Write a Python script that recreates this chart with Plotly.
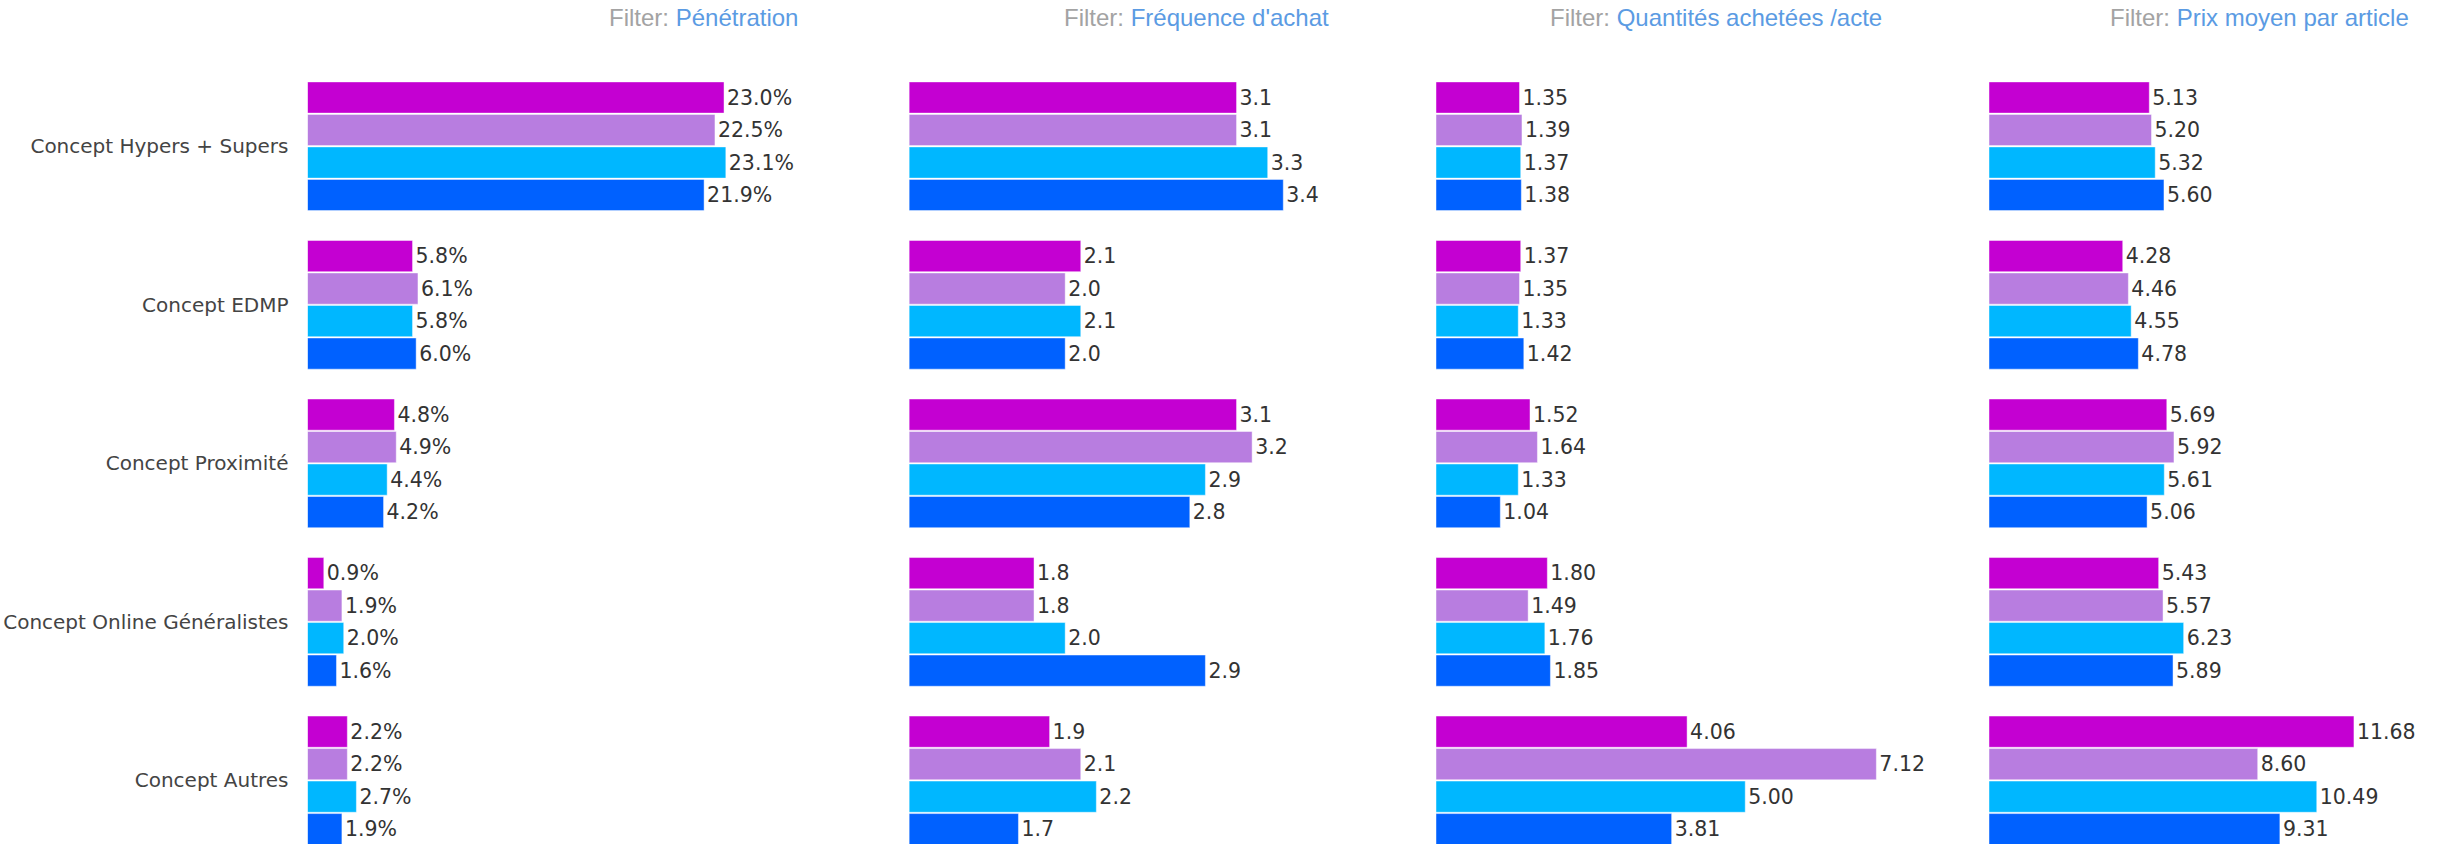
import plotly.graph_objects as go

categories = [
    "Concept Hypers + Supers",
    "Concept EDMP",
    "Concept Proximité",
    "Concept Online Généralistes",
    "Concept Autres",
]
series_names = ["Série 1", "Série 2", "Série 3", "Série 4"]
series_colors = ["#c400d2", "#b87de0", "#00b7ff", "#0061ff"]

metric_titles = [
    "Pénétration",
    "Fréquence d'achat",
    "Quantités achetées /acte",
    "Prix moyen par article",
]

penetration = [
    [23.0, 5.8, 4.8, 0.9, 2.2],
    [22.5, 6.1, 4.9, 1.9, 2.2],
    [23.1, 5.8, 4.4, 2.0, 2.7],
    [21.9, 6.0, 4.2, 1.6, 1.9],
]
frequence = [
    [3.1, 2.1, 3.1, 1.8, 1.9],
    [3.1, 2.0, 3.2, 1.8, 2.1],
    [3.3, 2.1, 2.9, 2.0, 2.2],
    [3.4, 2.0, 2.8, 2.9, 1.7],
]
quantites = [
    [1.35, 1.37, 1.52, 1.80, 4.06],
    [1.39, 1.35, 1.64, 1.49, 7.12],
    [1.37, 1.33, 1.33, 1.76, 5.00],
    [1.38, 1.42, 1.04, 1.85, 3.81],
]
prix = [
    [5.13, 4.28, 5.69, 5.43, 11.68],
    [5.20, 4.46, 5.92, 5.57, 8.60],
    [5.32, 4.55, 5.61, 6.23, 10.49],
    [5.60, 4.78, 5.06, 5.89, 9.31],
]

panel_values = [penetration, frequence, quantites, prix]
panel_formats = ["%{x:.1f}%", "%{x:.1f}", "%{x:.2f}", "%{x:.2f}"]
panel_ranges = [[0, 27.03], [1.0, 3.687], [0, 7.195], [0, 13.41]]
panel_domains = [
    [307.5 / 2450, 797 / 2450],
    [909.4 / 2450, 1328 / 2450],
    [1436 / 2450, 1881 / 2450],
    [1989 / 2450, 2408 / 2450],
]
panel_clip = [False, True, False, False]

fig = go.Figure()

for p, values in enumerate(panel_values):
    xa = "x" if p == 0 else f"x{p+1}"
    ya = "y" if p == 0 else f"y{p+1}"
    for s, vals in enumerate(values):
        fig.add_trace(
            go.Bar(
                y=categories,
                x=vals,
                orientation="h",
                name=series_names[s],
                marker=dict(color=series_colors[s],
                            line=dict(color="rgba(255,255,255,0.45)", width=1)),
                texttemplate=panel_formats[p],
                textposition="outside",
                textfont=dict(family="DejaVu Sans", size=20.5, color="#333333"),
                cliponaxis=panel_clip[p],
                xaxis=xa,
                yaxis=ya,
                showlegend=False,
            )
        )

layout = dict(
    width=2450,
    height=844,
    margin=dict(l=0, r=0, t=67, b=0),
    barmode="group",
    bargap=0.18,
    bargroupgap=0.04,
    paper_bgcolor="white",
    plot_bgcolor="white",
    showlegend=False,
    font=dict(family="DejaVu Sans", color="#444444"),
)

annotations = []
for p in range(4):
    xkey = "xaxis" if p == 0 else f"xaxis{p+1}"
    ykey = "yaxis" if p == 0 else f"yaxis{p+1}"
    xa = "x" if p == 0 else f"x{p+1}"
    ya = "y" if p == 0 else f"y{p+1}"
    layout[xkey] = dict(
        domain=panel_domains[p],
        range=panel_ranges[p],
        anchor=ya,
        showgrid=False,
        zeroline=False,
        showline=False,
        showticklabels=False,
        ticks="",
        fixedrange=True,
    )
    layout[ykey] = dict(
        anchor=xa,
        type="category",
        categoryorder="array",
        categoryarray=categories,
        range=[4.401, -0.5],
        showgrid=False,
        zeroline=False,
        showline=False,
        showticklabels=(p == 0),
        ticks="outside" if p == 0 else "",
        ticklen=14,
        tickcolor="rgba(0,0,0,0)",
        tickfont=dict(family="DejaVu Sans", size=20, color="#444444"),
        fixedrange=True,
    )
    annotations.append(
        dict(
            xref=f"{xa} domain",
            yref="paper",
            x=1,
            y=1,
            xanchor="right",
            yanchor="middle",
            xshift=3,
            yshift=50,
            showarrow=False,
            text=("<span style='color:#a3a3a3'>Filter: </span>"
                  f"<span style='color:#5b9be3'>{metric_titles[p]}</span>"),
            font=dict(family="Liberation Sans", size=24),
        )
    )

layout["annotations"] = annotations
fig.update_layout(**layout)

fig.write_html(
    "out.html",
    config={"displayModeBar": False},
    post_script="document.body.style.margin='0';document.body.style.overflow='hidden';",
)
